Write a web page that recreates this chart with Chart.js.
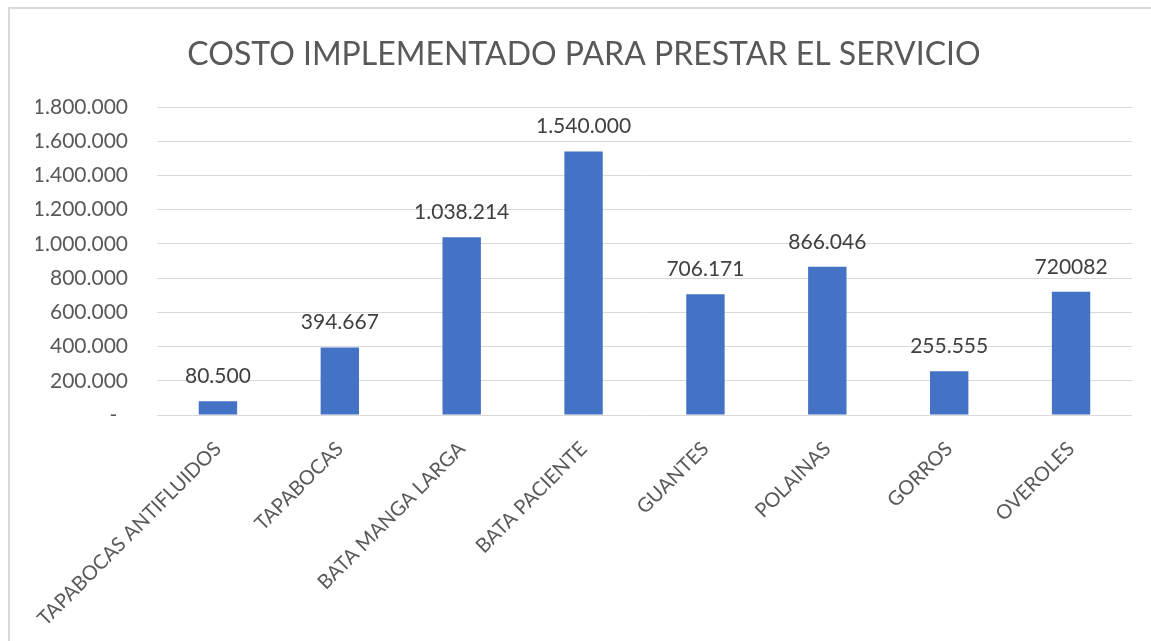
<!DOCTYPE html>
<html>
<head>
<meta charset="utf-8">
<script src="https://cdn.jsdelivr.net/npm/chart.js@4.4.0/dist/chart.umd.min.js"></script>
<style>
  html, body { margin: 0; padding: 0; background: #ffffff; overflow: hidden; }
  #wrap { position: relative; width: 1151px; height: 641px; overflow: hidden; background: #fff; }
  #frame { position: absolute; left: 8px; top: 7px; width: 1200px; height: 700px; border: 2px solid #d9d9d9; box-sizing: border-box; pointer-events: none; }
  canvas { position: absolute; left: 0; top: 0; }
</style>
</head>
<body>
<div id="wrap">
  <canvas id="c" width="1151" height="641"></canvas>
  <div id="frame"></div>
</div>
<script>
const chartTitle = 'COSTO IMPLEMENTADO PARA PRESTAR EL SERVICIO';
const categories = ['TAPABOCAS ANTIFLUIDOS', 'TAPABOCAS', 'BATA MANGA LARGA', 'BATA PACIENTE', 'GUANTES', 'POLAINAS', 'GORROS', 'OVEROLES'];
const costs = [80500, 394667, 1038214, 1540000, 706171, 866046, 255555, 720082];
const valueLabels = ['80.500', '394.667', '1.038.214', '1.540.000', '706.171', '866.046', '255.555', '720082'];
const yMax = 1800000;
const yStep = 200000;

const FONT = 'Lato, "Open Sans", sans-serif';

function fmt(v) {
  if (v === 0) return '-  ';
  return Math.round(v).toString().replace(/\B(?=(\d{3})+(?!\d))/g, '.');
}

const dataLabelPlugin = {
  id: 'dataLabels',
  afterDatasetsDraw(chart) {
    const ctx = chart.ctx;
    const meta = chart.getDatasetMeta(0);
    ctx.save();
    ctx.font = '21px ' + FONT;
    ctx.fillStyle = '#404040';
    ctx.textAlign = 'center';
    ctx.textBaseline = 'alphabetic';
    meta.data.forEach((bar, i) => {
      ctx.fillText(valueLabels[i], bar.x, bar.y - 18);
    });
    ctx.restore();
  }
};

new Chart(document.getElementById('c'), {
  type: 'bar',
  data: {
    labels: categories,
    datasets: [{
      data: costs,
      backgroundColor: '#4472c4',
      borderWidth: 0,
      categoryPercentage: 1.0,
      barPercentage: 0.315
    }]
  },
  options: {
    responsive: false,
    animation: false,
    devicePixelRatio: 1,
    layout: { padding: { left: 36, right: 19, top: 0, bottom: 0 } },
    plugins: {
      legend: { display: false },
      tooltip: { enabled: false },
      title: {
        display: true,
        text: chartTitle,
        color: '#595959',
        font: { family: FONT, size: 32, weight: 'normal' },
        padding: { top: 35, bottom: 33.6 }
      }
    },
    scales: {
      x: {
        grid: { display: false, drawTicks: false },
        border: { display: false },
        ticks: {
          color: '#595959',
          font: { family: FONT, size: 20 },
          minRotation: 45,
          maxRotation: 45,
          autoSkip: false,
          padding: 22
        },
        afterFit(scale) { scale.height = 226; }
      },
      y: {
        min: 0,
        max: yMax,
        grid: { color: '#d9d9d9', lineWidth: 1, drawTicks: false },
        border: { display: false },
        ticks: {
          stepSize: yStep,
          color: '#595959',
          font: { family: FONT, size: 21 },
          padding: 29,
          callback: (v) => fmt(v)
        },
        afterFit(scale) { scale.width = 121; }
      }
    }
  },
  plugins: [dataLabelPlugin]
});
</script>
</body>
</html>
